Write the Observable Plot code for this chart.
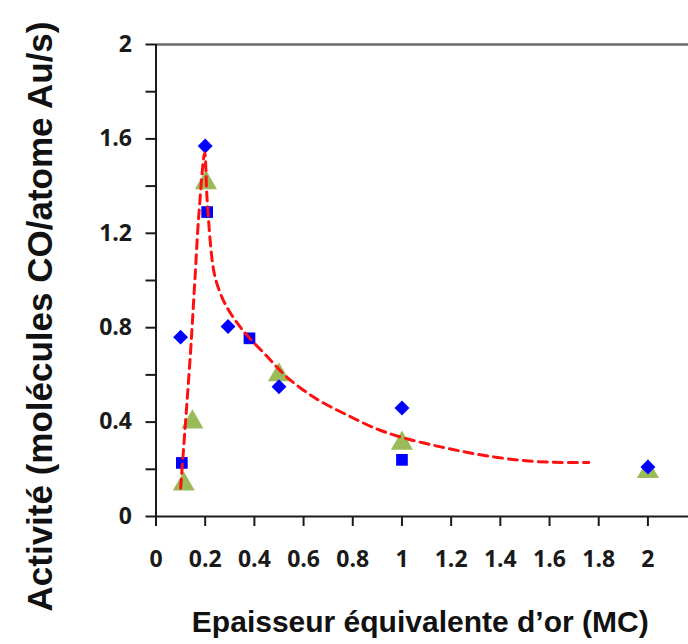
<!DOCTYPE html>
<html>
<head>
<meta charset="utf-8">
<script src="https://cdn.jsdelivr.net/npm/d3@7"></script>
<script src="https://cdn.jsdelivr.net/npm/@observablehq/plot@0.6"></script>
<style>
  html, body { margin: 0; padding: 0; background: white; }
  #chart svg text { font-weight: 700 !important; }
</style>
</head>
<body>
<div id="chart"></div>
<script>
// ---- Data ----
const diamondX = [0.10, 0.20, 0.293, 0.50, 1.00, 2.00];
const diamondY = [0.76, 1.57, 0.805, 0.55, 0.46, 0.21];

const squareX = [0.105, 0.208, 0.38, 1.00];
const squareY = [0.227, 1.29, 0.755, 0.24];

const triangleX = [0.113, 0.148, 0.203, 0.50, 1.00, 2.00];
const triangleY = [0.137, 0.40, 1.414, 0.60, 0.31, 0.19];

// red dashed trend (hand-drawn guide curve, points read along it)
const trendX = [0.10, 0.14, 0.158, 0.175, 0.198, 0.208, 0.235, 0.26, 0.289, 0.33, 0.371, 0.45, 0.533, 0.65, 0.777, 0.90, 1.00, 1.157, 1.30, 1.45, 1.60, 1.76];
const trendY = [0.12, 0.69, 1.00, 1.29, 1.54, 1.34, 1.04, 0.95, 0.885, 0.82, 0.767, 0.68, 0.59, 0.50, 0.43, 0.37, 0.335, 0.295, 0.265, 0.242, 0.23, 0.229];

// ticks and labels
const xTicks = [0, 0.2, 0.4, 0.6, 0.8, 1, 1.2, 1.4, 1.6, 1.8, 2];
const xTickLabels = ["0", "0.2", "0.4", "0.6", "0.8", "1", "1.2", "1.4", "1.6", "1.8", "2"];
const yTicks = [0, 0.2, 0.4, 0.6, 0.8, 1, 1.2, 1.4, 1.6, 1.8, 2];
const yTickLabels = ["0", "", "0.4", "", "0.8", "", "1.2", "", "1.6", "", "2"];

const xTitle = "Epaisseur équivalente d’or (MC)";
const yTitle = "Activité (molécules CO/atome Au/s)";

// ---- Build tables ----
const diamonds = diamondX.map((x, i) => ({x, y: diamondY[i]}));
const squares = squareX.map((x, i) => ({x, y: squareY[i]}));
const triangles = triangleX.map((x, i) => ({x, y: triangleY[i]}));
const trend = trendX.map((x, i) => ({x, y: trendY[i]}));
const xLabelMap = new Map(xTicks.map((v, i) => [v, xTickLabels[i]]));
const yLabelMap = new Map(yTicks.map((v, i) => [v, yTickLabels[i]]));

const tickFont = "'Open Sans', 'DejaVu Sans', sans-serif";

const chart = Plot.plot({
  width: 688,
  height: 644,
  marginLeft: 155.5,
  marginRight: 0,
  marginTop: 44,
  marginBottom: 128,
  x: {domain: [0, 2.165]},
  y: {domain: [0, 2]},
  style: {background: "white", fontFamily: "'Liberation Sans', Arial, sans-serif", overflow: "visible"},
  marks: [
    Plot.ruleY([2], {stroke: "#6a6a6a", strokeWidth: 2.5}),
    Plot.axisY({
      ticks: yTicks, tickFormat: d => yLabelMap.get(d), tickSize: 10, tickPadding: 14,
      fontSize: 23, fontFamily: tickFont, fontWeight: "bold", color: "#1a1a1a", strokeWidth: 2, label: null
    }),
    Plot.axisX({
      ticks: xTicks, tickFormat: d => xLabelMap.get(d), tickSize: 10, tickPadding: 24,
      fontSize: 23, fontFamily: tickFont, fontWeight: "bold", color: "#1a1a1a", strokeWidth: 2, label: null
    }),
    Plot.ruleX([0], {stroke: "#1a1a1a", strokeWidth: 2}),
    Plot.ruleY([0], {stroke: "#1a1a1a", strokeWidth: 2}),
    Plot.dot(triangles, {x: "x", y: "y", symbol: "triangle", r: 8.2, fill: "#9BBB59", stroke: "none"}),
    Plot.dot(squares, {x: "x", y: "y", symbol: "square", r: 6.6, fill: "#0000FF", stroke: "none"}),
    Plot.dot(diamonds, {x: "x", y: "y", symbol: "diamond2", r: 6.7, fill: "#0000FF", stroke: "none"}),
    Plot.line(trend, {x: "x", y: "y", curve: "catmull-rom", stroke: "#FF1010", strokeWidth: 3, strokeDasharray: "9,6"}),
    Plot.text([yTitle], {
      text: d => d, frameAnchor: "left", rotate: -90, dx: -115.5, dy: 36,
      fontSize: 35, fontWeight: "bold", fill: "#111", textAnchor: "middle", lineAnchor: "middle"
    }),
    Plot.text([xTitle], {
      text: d => d, frameAnchor: "bottom", dx: -2, dy: 106,
      fontSize: 30, fontWeight: "bold", fill: "#111", textAnchor: "middle", lineAnchor: "middle"
    })
  ]
});

const tickLabelSet = new Set([...xTickLabels, ...yTickLabels].filter(s => s !== ""));
chart.querySelectorAll("text").forEach(t => {
  t.setAttribute("font-weight", "bold");
  if (tickLabelSet.has(t.textContent.trim())) {
    t.style.fontSize = "23px";
    t.style.fontFamily = tickFont;
  }
});
document.getElementById("chart").appendChild(chart);
</script>
</body>
</html>
